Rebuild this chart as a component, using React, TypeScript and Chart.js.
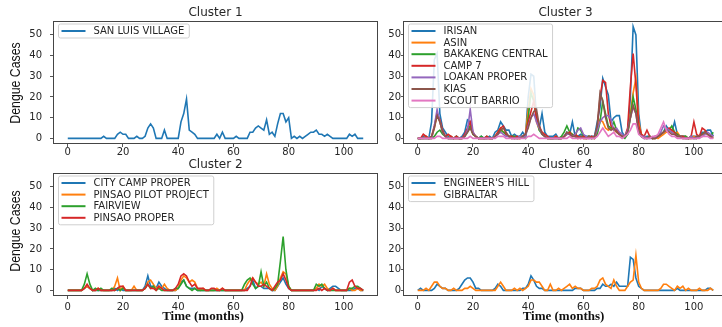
import React, { useEffect, useRef } from 'react';
import { Chart, registerables } from 'chart.js';
Chart.register(...registerables);

// ---------- data ----------
const xTicks = [0, 20, 40, 60, 80, 100];
const yTicks = [0, 10, 20, 30, 40, 50];
const X_MIN = -5.35;
const X_MAX = 112.35;
const Y_MIN = -2.7;
const Y_MAX = 56.7;

const titles = ['Cluster 1', 'Cluster 3', 'Cluster 2', 'Cluster 4'];
const yAxisLabel = 'Dengue Cases';
const xAxisLabel = 'Time (months)';

// Cluster 1
const sanLuisVillage = [
  0, 0, 0, 0, 0, 0, 0, 0, 0, 0,
  0, 0, 0, 1, 0, 0, 0, 0, 2, 3,
  2, 2, 0, 0, 0, 1, 0, 0, 1, 5,
  7, 5, 0, 0, 0, 4, 0, 0, 0, 0,
  0, 8, 12, 19, 4, 3, 2, 0, 0, 0,
  0, 0, 0, 0, 2, 0, 3, 0, 0, 0,
  0, 1, 0, 0, 0, 0, 3, 3, 5, 6,
  5, 4, 9, 2, 3, 1, 7, 12, 12, 8,
  10, 0, 1, 0, 1, 0, 1, 2, 3, 3,
  4, 2, 2, 1, 2, 1, 0, 0, 0, 0,
  0, 0, 2, 1, 2, 0, 0, 0,
];

// Cluster 3
const irisan = [
  0, 0, 1, 1, 0, 8, 38, 41, 12, 5,
  3, 1, 1, 0, 1, 0, 1, 3, 9, 8,
  2, 1, 0, 1, 0, 0, 1, 0, 3, 4,
  8, 6, 4, 4, 1, 2, 1, 1, 3, 1,
  20, 31, 30, 10, 5, 12, 3, 1, 1, 1,
  2, 0, 0, 1, 3, 2, 8, 1, 1, 2,
  1, 1, 1, 1, 1, 8, 15, 29, 25, 21,
  8, 10, 11, 11, 3, 1, 2, 20, 54, 50,
  12, 1, 0, 1, 1, 0, 1, 1, 2, 3,
  6, 4, 3, 8, 2, 1, 1, 1, 0, 1,
  1, 1, 1, 3, 3, 4, 4, 1,
];
const asin = [
  0, 0, 0, 1, 0, 0, 5, 12, 8, 3,
  1, 0, 1, 0, 0, 0, 0, 1, 4, 6,
  2, 1, 0, 0, 0, 0, 0, 0, 1, 3,
  5, 3, 2, 1, 0, 1, 0, 0, 1, 2,
  14, 24, 21, 8, 4, 3, 1, 0, 0, 0,
  1, 0, 0, 1, 2, 3, 2, 1, 0, 1,
  0, 0, 1, 0, 1, 3, 9, 8, 5, 4,
  5, 4, 3, 2, 1, 1, 3, 12, 22, 29,
  8, 2, 1, 0, 1, 0, 1, 0, 1, 2,
  3, 3, 4, 2, 3, 1, 0, 1, 0, 0,
  1, 0, 1, 1, 3, 2, 1, 0,
];
const bakakengCentral = [
  0, 0, 0, 0, 0, 0, 1, 3, 4, 2,
  1, 0, 0, 0, 1, 0, 0, 1, 3, 6,
  2, 1, 0, 1, 0, 1, 0, 0, 1, 2,
  4, 3, 2, 1, 1, 1, 0, 1, 1, 0,
  10, 22, 18, 10, 4, 2, 1, 0, 0, 0,
  0, 0, 1, 3, 6, 3, 2, 1, 5, 4,
  1, 0, 1, 0, 0, 2, 8, 18, 12, 6,
  5, 8, 4, 2, 1, 0, 2, 10, 20, 14,
  4, 1, 1, 0, 1, 0, 0, 1, 2, 3,
  5, 4, 6, 3, 2, 1, 1, 1, 0, 1,
  0, 0, 1, 2, 3, 2, 1, 3,
];
const camp7 = [
  0, 0, 2, 1, 0, 1, 6, 12, 9, 4,
  1, 2, 1, 0, 1, 0, 0, 2, 5, 8,
  3, 1, 0, 0, 0, 1, 0, 0, 1, 3,
  5, 6, 2, 1, 1, 0, 1, 0, 1, 2,
  8, 13, 18, 10, 6, 3, 2, 1, 0, 0,
  1, 0, 0, 1, 2, 3, 1, 2, 1, 0,
  1, 0, 0, 1, 0, 5, 20, 28, 27, 12,
  6, 5, 4, 2, 1, 1, 5, 25, 41, 26,
  6, 2, 1, 4, 1, 0, 0, 1, 2, 3,
  4, 5, 4, 3, 1, 1, 1, 0, 0, 1,
  8, 2, 1, 5, 4, 2, 1, 1,
];
const loakanProper = [
  0, 0, 0, 0, 0, 0, 6, 14, 8, 3,
  1, 0, 0, 0, 0, 0, 0, 1, 4, 14,
  3, 1, 0, 0, 0, 0, 0, 0, 1, 2,
  3, 2, 1, 1, 0, 0, 0, 1, 1, 1,
  6, 10, 12, 8, 5, 2, 1, 0, 0, 0,
  0, 0, 0, 1, 2, 2, 1, 2, 4, 5,
  2, 1, 0, 0, 1, 4, 8, 10, 11, 11,
  9, 4, 5, 3, 2, 1, 4, 10, 15, 12,
  3, 1, 1, 0, 0, 0, 1, 1, 3, 6,
  5, 4, 3, 2, 1, 1, 0, 0, 0, 1,
  0, 0, 1, 1, 2, 3, 2, 1,
];
const kias = [
  0, 0, 0, 0, 0, 1, 5, 11, 8, 3,
  1, 0, 0, 0, 0, 0, 0, 1, 3, 5,
  2, 1, 0, 0, 0, 0, 0, 0, 1, 2,
  4, 5, 3, 1, 0, 0, 0, 0, 1, 2,
  5, 10, 13, 14, 6, 2, 1, 0, 0, 0,
  0, 0, 0, 1, 3, 2, 1, 1, 0, 1,
  0, 0, 1, 0, 1, 6, 22, 18, 10, 5,
  4, 5, 3, 2, 1, 1, 3, 10, 16, 12,
  3, 1, 0, 0, 1, 0, 0, 1, 2, 3,
  4, 3, 2, 2, 1, 1, 0, 0, 0, 0,
  0, 1, 1, 2, 3, 2, 1, 0,
];
const scoutBarrio = [
  0, 0, 0, 0, 0, 0, 0, 1, 1, 0,
  0, 0, 0, 0, 0, 0, 0, 0, 0, 1,
  0, 0, 0, 0, 0, 0, 0, 0, 0, 1,
  1, 1, 0, 0, 0, 0, 0, 0, 0, 0,
  1, 1, 2, 1, 0, 0, 0, 0, 0, 0,
  0, 0, 0, 0, 0, 1, 0, 0, 0, 0,
  0, 0, 0, 0, 0, 1, 3, 5, 3, 1,
  2, 3, 1, 1, 0, 1, 2, 4, 7, 7,
  2, 1, 0, 0, 0, 1, 1, 2, 5, 8,
  4, 2, 1, 1, 0, 0, 0, 0, 0, 0,
  0, 0, 0, 1, 1, 1, 0, 0,
];

// Cluster 2
const cityCampProper = [
  0, 0, 0, 0, 0, 0, 1, 2, 1, 0,
  0, 0, 0, 0, 0, 0, 0, 1, 0, 1,
  0, 0, 0, 0, 0, 0, 0, 0, 2, 7,
  2, 2, 1, 4, 2, 1, 0, 0, 0, 0,
  1, 4, 5, 2, 1, 1, 1, 0, 0, 0,
  0, 0, 0, 0, 0, 0, 0, 0, 0, 0,
  0, 0, 0, 0, 0, 1, 2, 5, 1, 2,
  2, 1, 1, 1, 0, 0, 2, 4, 6, 3,
  1, 0, 0, 0, 0, 0, 0, 0, 0, 0,
  1, 0, 2, 1, 0, 1, 2, 2, 1, 0,
  0, 0, 0, 0, 1, 1, 0, 0,
];
const pinsaoPilotProject = [
  0, 0, 0, 0, 0, 0, 1, 2, 1, 0,
  0, 1, 0, 0, 0, 0, 0, 2, 6, 0,
  2, 0, 0, 0, 2, 0, 0, 0, 1, 4,
  5, 3, 1, 2, 1, 3, 1, 0, 0, 0,
  1, 5, 7, 6, 4, 5, 4, 1, 0, 1,
  0, 0, 0, 0, 1, 0, 1, 0, 0, 0,
  0, 0, 0, 0, 0, 3, 5, 6, 4, 3,
  4, 2, 8, 3, 1, 0, 2, 6, 9, 8,
  2, 0, 0, 0, 0, 0, 0, 0, 0, 0,
  1, 3, 2, 3, 1, 0, 1, 0, 0, 0,
  0, 0, 1, 0, 0, 1, 0, 0,
];
const fairview = [
  0, 0, 0, 0, 0, 0, 3, 8, 3, 0,
  1, 0, 1, 0, 0, 0, 1, 0, 1, 0,
  1, 0, 0, 0, 0, 0, 0, 0, 1, 3,
  1, 2, 0, 1, 0, 0, 0, 0, 0, 1,
  1, 3, 5, 2, 1, 0, 1, 0, 0, 0,
  0, 0, 0, 0, 0, 0, 0, 0, 0, 0,
  0, 0, 0, 0, 3, 5, 6, 3, 1, 2,
  9, 2, 4, 1, 0, 1, 3, 14, 26, 10,
  2, 0, 0, 0, 0, 0, 0, 0, 0, 0,
  3, 2, 3, 1, 0, 0, 0, 0, 0, 0,
  0, 0, 1, 1, 2, 2, 1, 0,
];
const pinsaoProper = [
  0, 0, 0, 0, 0, 0, 1, 3, 1, 0,
  0, 1, 0, 0, 0, 0, 0, 0, 1, 2,
  2, 0, 0, 0, 0, 0, 0, 0, 1, 3,
  1, 1, 0, 2, 1, 0, 0, 0, 0, 1,
  3, 7, 8, 7, 4, 2, 3, 1, 1, 1,
  0, 0, 1, 1, 0, 0, 1, 0, 0, 0,
  0, 0, 0, 0, 0, 0, 2, 6, 4, 2,
  2, 3, 2, 1, 0, 2, 4, 5, 8, 5,
  1, 0, 0, 0, 0, 0, 0, 0, 0, 0,
  0, 1, 0, 1, 0, 0, 1, 0, 0, 0,
  0, 0, 4, 5, 2, 1, 1, 0,
];

// Cluster 4
const engineersHill = [
  0, 1, 0, 0, 0, 0, 1, 3, 2, 1,
  1, 0, 0, 0, 0, 1, 3, 5, 6, 6,
  4, 1, 1, 0, 0, 0, 0, 0, 1, 3,
  2, 0, 0, 0, 0, 0, 0, 0, 1, 1,
  3, 7, 5, 2, 1, 1, 0, 0, 0, 0,
  0, 0, 0, 0, 0, 0, 0, 1, 1, 1,
  0, 0, 0, 0, 0, 1, 1, 3, 2, 2,
  3, 2, 4, 2, 2, 2, 2, 16, 15, 6,
  2, 1, 0, 0, 0, 0, 0, 0, 0, 0,
  0, 0, 0, 0, 1, 0, 0, 0, 0, 0,
  0, 0, 0, 0, 0, 1, 1, 0,
];
const gibraltar = [
  0, 0, 0, 1, 0, 2, 4, 4, 2, 1,
  1, 0, 0, 1, 0, 0, 0, 1, 1, 2,
  1, 0, 0, 0, 0, 0, 0, 0, 0, 2,
  4, 2, 0, 0, 0, 1, 0, 1, 0, 1,
  2, 5, 5, 4, 4, 2, 0, 0, 3, 0,
  0, 1, 0, 1, 2, 3, 1, 2, 1, 1,
  0, 0, 0, 1, 1, 2, 5, 6, 3, 2,
  1, 5, 2, 0, 0, 0, 2, 4, 5, 17,
  4, 1, 0, 0, 0, 0, 0, 0, 1, 3,
  3, 2, 1, 0, 2, 1, 2, 0, 1, 0,
  0, 0, 1, 0, 0, 0, 1, 0,
];

const TAB = ['#1f77b4', '#ff7f0e', '#2ca02c', '#d62728', '#9467bd', '#8c564b', '#e377c2'];

type Series = { label: string; values: number[]; color: string };

const cluster1: Series[] = [{ label: 'SAN LUIS VILLAGE', values: sanLuisVillage, color: TAB[0] }];
const cluster3: Series[] = [
  { label: 'IRISAN', values: irisan, color: TAB[0] },
  { label: 'ASIN', values: asin, color: TAB[1] },
  { label: 'BAKAKENG CENTRAL', values: bakakengCentral, color: TAB[2] },
  { label: 'CAMP 7', values: camp7, color: TAB[3] },
  { label: 'LOAKAN PROPER', values: loakanProper, color: TAB[4] },
  { label: 'KIAS', values: kias, color: TAB[5] },
  { label: 'SCOUT BARRIO', values: scoutBarrio, color: TAB[6] },
];
const cluster2: Series[] = [
  { label: 'CITY CAMP PROPER', values: cityCampProper, color: TAB[0] },
  { label: 'PINSAO PILOT PROJECT', values: pinsaoPilotProject, color: TAB[1] },
  { label: 'FAIRVIEW', values: fairview, color: TAB[2] },
  { label: 'PINSAO PROPER', values: pinsaoProper, color: TAB[3] },
];
const cluster4: Series[] = [
  { label: "ENGINEER'S HILL", values: engineersHill, color: TAB[0] },
  { label: 'GIBRALTAR', values: gibraltar, color: TAB[1] },
];

// ---------- drawing ----------
const TEXT = '#262626';
const SANS = '"DejaVu Sans", sans-serif';

const decorPlugin = {
  id: 'decor',
  afterDatasetsDraw(chart: any) {
    const { ctx, chartArea: a } = chart;
    const ds = chart.data.datasets;
    ctx.save();
    ctx.font = '10px ' + SANS;
    let maxW = 0;
    ds.forEach((d: any) => { maxW = Math.max(maxW, ctx.measureText(d.label).width); });
    const bx = a.left + 5.5;
    const by = a.top + 3;
    const pitch = 11.6;
    const bw = 35 + maxW + 5;
    const bh = 14 + (ds.length - 1) * pitch;
    ctx.beginPath();
    if ((ctx as any).roundRect) (ctx as any).roundRect(bx, by, bw, bh, 2);
    else ctx.rect(bx, by, bw, bh);
    ctx.fillStyle = 'rgba(255,255,255,0.85)';
    ctx.fill();
    ctx.strokeStyle = '#cfcfcf';
    ctx.lineWidth = 1;
    ctx.stroke();
    ds.forEach((d: any, i: number) => {
      const cy = by + 7 + i * pitch;
      ctx.beginPath();
      ctx.moveTo(bx + 3, cy);
      ctx.lineTo(bx + 27, cy);
      ctx.strokeStyle = d.borderColor;
      ctx.lineWidth = 2;
      ctx.stroke();
      ctx.fillStyle = TEXT;
      ctx.textAlign = 'left';
      ctx.textBaseline = 'middle';
      ctx.fillText(d.label, bx + 35, cy + 0.5);
    });
    ctx.restore();
  },
  afterDraw(chart: any, _args: any, opts: any) {
    const { ctx, chartArea: a } = chart;
    ctx.save();
    // frame
    ctx.strokeStyle = '#454545';
    ctx.lineWidth = 1;
    const l = Math.round(a.left) + 0.5;
    const t = Math.round(a.top) + 0.5;
    const r = Math.round(a.right) - 0.5;
    const b = Math.round(a.bottom) - 0.5;
    ctx.strokeRect(l, t, r - l, b - t);
    // title
    ctx.fillStyle = TEXT;
    ctx.font = '12px ' + SANS;
    ctx.textAlign = 'center';
    ctx.textBaseline = 'middle';
    ctx.fillText(opts.title, (a.left + a.right) / 2, a.top - opts.titleGap);
    // y label
    if (opts.yLabel) {
      ctx.save();
      ctx.translate(opts.yLabel.x, opts.yLabel.y);
      ctx.rotate(-Math.PI / 2);
      ctx.scale(0.82, 1);
      ctx.font = '15px "Liberation Sans", Arial, sans-serif';
      ctx.fillStyle = '#111';
      ctx.textAlign = 'center';
      ctx.textBaseline = 'middle';
      ctx.fillText(yAxisLabel, 0, 0);
      ctx.restore();
    }
    if (opts.xLabel) {
      ctx.font = 'bold 13px "Liberation Serif", "DejaVu Serif", serif';
      ctx.fillStyle = '#111';
      ctx.textAlign = 'center';
      ctx.textBaseline = 'middle';
      ctx.fillText(xAxisLabel, opts.xLabel.x, opts.xLabel.y);
    }
    ctx.restore();
  },
};

type PanelProps = {
  title: string;
  series: Series[];
  left: number; top: number; width: number; height: number;
  padTop: number; padRight: number;
  yAxisW: number; xAxisH: number;
  titleGap: number;
  xTickPad: number;
  yTickPad: number;
  yTickLen: number;
  yLabel?: { x: number; y: number };
  xLabel?: { x: number; y: number };
};

function Panel(p: PanelProps) {
  const ref = useRef<HTMLCanvasElement>(null);
  useEffect(() => {
    const tickFont = { family: SANS, size: 10 };
    const chart = new Chart(ref.current as HTMLCanvasElement, {
      type: 'line',
      data: {
        datasets: p.series.map((s, i) => ({
          label: s.label,
          data: s.values.map((v, j) => ({ x: j, y: v })),
          borderColor: s.color,
          backgroundColor: s.color,
          borderWidth: 1.6,
          pointRadius: 0,
          tension: 0,
          fill: false,
          order: p.series.length - i,
        })),
      },
      options: {
        animation: false,
        responsive: false,
        devicePixelRatio: 1,
        events: [],
        layout: { padding: { left: 0, top: p.padTop, right: p.padRight, bottom: 0 }, autoPadding: false },
        plugins: {
          legend: { display: false },
          tooltip: { enabled: false },
          decor: {
            title: p.title,
            titleGap: p.titleGap,
            yLabel: p.yLabel || null,
            xLabel: p.xLabel || null,
          },
        } as any,
        scales: {
          x: {
            type: 'linear',
            min: X_MIN,
            max: X_MAX,
            afterBuildTicks: (s: any) => { s.ticks = xTicks.map((v) => ({ value: v })); },
            afterFit: (s: any) => { s.height = p.xAxisH; s.paddingLeft = 0; s.paddingRight = 0; },
            grid: { drawOnChartArea: false, drawTicks: true, tickLength: 3, color: '#555', lineWidth: 1 },
            border: { display: false },
            ticks: { font: tickFont, color: TEXT, padding: p.xTickPad, maxRotation: 0, autoSkip: false },
          },
          y: {
            type: 'linear',
            min: Y_MIN,
            max: Y_MAX,
            afterBuildTicks: (s: any) => { s.ticks = yTicks.map((v) => ({ value: v })); },
            afterFit: (s: any) => { s.width = p.yAxisW; s.paddingTop = 0; s.paddingBottom = 0; },
            grid: { drawOnChartArea: false, drawTicks: true, tickLength: p.yTickLen, color: '#555', lineWidth: 1 },
            border: { display: false },
            ticks: { font: tickFont, color: TEXT, padding: p.yTickPad, autoSkip: false },
          },
        },
      } as any,
      plugins: [decorPlugin as any],
    });
    return () => chart.destroy();
  }, []);
  return (
    <canvas
      ref={ref}
      width={p.width}
      height={p.height}
      style={{ position: 'absolute', left: p.left, top: p.top, width: p.width, height: p.height }}
    />
  );
}

export default function App() {
  return (
    <div
      style={{
        position: 'fixed', left: 0, top: 0, width: 722, height: 327,
        overflow: 'hidden', background: '#ffffff',
      }}
    >
      <Panel
        title={titles[0]} series={cluster1}
        left={0} top={0} width={390} height={160}
        padTop={21} padRight={12} yAxisW={53} xAxisH={16}
        titleGap={8.5} xTickPad={-1} yTickPad={8} yTickLen={3}
        yLabel={{ x: 16, y: 83 }}
      />
      <Panel
        title={titles[1]} series={cluster3}
        left={380} top={0} width={360} height={160}
        padTop={21} padRight={12} yAxisW={23} xAxisH={16}
        titleGap={8.5} xTickPad={-1} yTickPad={0} yTickLen={2}
      />
      <Panel
        title={titles[2]} series={cluster2}
        left={0} top={150} width={390} height={177}
        padTop={23} padRight={12} yAxisW={53} xAxisH={31}
        titleGap={8} xTickPad={2} yTickPad={8} yTickLen={3}
        yLabel={{ x: 16, y: 81 }}
        xLabel={{ x: 203, y: 167 }}
      />
      <Panel
        title={titles[3]} series={cluster4}
        left={380} top={150} width={360} height={177}
        padTop={23} padRight={12} yAxisW={23} xAxisH={31}
        titleGap={8} xTickPad={2} yTickPad={0} yTickLen={2}
        xLabel={{ x: 183.5, y: 167 }}
      />
    </div>
  );
}
